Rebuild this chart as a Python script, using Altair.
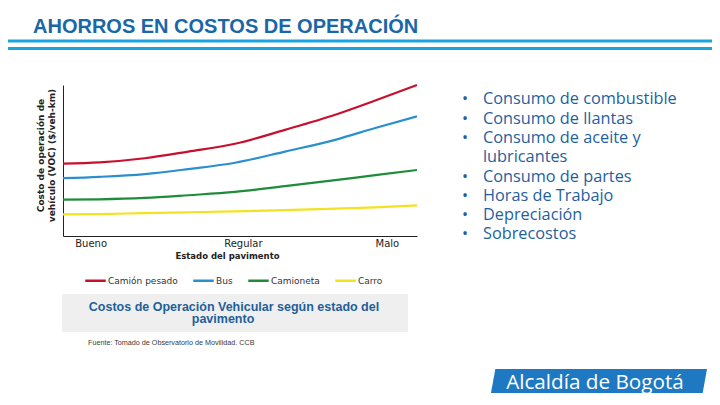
import altair as alt
import pandas as pd

# ---------------- data ----------------
x_pos = [0, 10.4, 23.1, 35.4, 48.6, 62.7, 76.9, 88.2, 100]
camion_pesado = [47.9, 48.8, 51.5, 55.9, 61.1, 70.3, 80.3, 89.7, 100]
bus = [38.3, 39.2, 41.0, 44.3, 48.5, 55.9, 63.7, 71.5, 79.2]
camioneta = [24.1, 24.3, 25.2, 27.0, 29.2, 33.0, 37.0, 40.3, 43.7]
carro = [14.3, 14.5, 15.2, 15.7, 16.3, 17.1, 18.1, 19.0, 20.3]

series_names = ["Camión pesado", "Bus", "Camioneta", "Carro"]
series_colors = ["#c8102e", "#2b8fcf", "#1e8c3a", "#f2e21f"]

estado_labels = ["Bueno", "Regular", "Malo"]
estado_pos = [7.8, 50.8, 91.5]

slide_title = "AHORROS EN COSTOS DE OPERACIÓN"
y_title = ["Costo de operación de", "vehículo (VOC) ($/veh-km)"]
x_title = "Estado del pavimento"
bullet_items = [
    "Consumo de combustible",
    "Consumo de llantas",
    "Consumo de aceite y\nlubricantes",
    "Consumo de partes",
    "Horas de Trabajo",
    "Depreciación",
    "Sobrecostos",
]
caption_lines = ["Costos de Operación Vehicular según estado del", "pavimento"]
source_text = "Fuente: Tomado de Observatorio de Movilidad. CCB"
logo_text = "Alcaldía de Bogotá"

# ---------------- tables ----------------
rows = []
for name, vals in zip(series_names, [camion_pesado, bus, camioneta, carro]):
    for xv, yv in zip(x_pos, vals):
        rows.append({"x": xv, "v": yv, "serie": name})
df = pd.DataFrame(rows)
one = pd.DataFrame({"k": [0]})

mid1 = (estado_pos[0] + estado_pos[1]) / 2
mid2 = (estado_pos[1] + estado_pos[2]) / 2
label_expr = (f"datum.value < {mid1} ? '{estado_labels[0]}' : "
              f"datum.value < {mid2} ? '{estado_labels[1]}' : '{estado_labels[2]}'")

CHART_FONT = "DejaVu Sans"

lines = alt.Chart(df).mark_line(strokeWidth=2.2, interpolate="monotone").encode(
    x=alt.X("x:Q", scale=alt.Scale(domain=[0, 100], nice=False),
            axis=alt.Axis(values=estado_pos, labelExpr=label_expr, ticks=False, grid=False,
                          domainColor="#222", domainWidth=1, labelFlush=False,
                          labelFont=CHART_FONT, labelFontSize=10, labelColor="#222",
                          labelPadding=2, title=x_title, titleFont=CHART_FONT,
                          titleFontSize=8.5, titleFontWeight="bold", titleColor="#222",
                          titleX=164, titleY=15)),
    y=alt.Y("v:Q", scale=alt.Scale(domain=[0, 100], nice=False),
            axis=alt.Axis(labels=False, ticks=False, grid=False, domainColor="#222",
                          domainWidth=1, title=y_title, titleFont=CHART_FONT,
                          titleFontSize=9, titleFontWeight="bold", titleColor="#222",
                          titlePadding=7, titleLineHeight=10.5, titleY=70)),
    color=alt.Color("serie:N", sort=series_names,
                    scale=alt.Scale(domain=series_names, range=series_colors),
                    legend=alt.Legend(orient="none", legendX=21, legendY=184,
                                      direction="horizontal", title=None,
                                      symbolType="stroke", symbolSize=420,
                                      symbolStrokeWidth=2.5, labelFont=CHART_FONT,
                                      labelFontSize=9, labelColor="#333",
                                      columnPadding=10, labelOffset=1)),
)


def text_layer(text, x, y, **kw):
    return alt.Chart(one).mark_text(text=text, **kw).encode(x=alt.value(x), y=alt.value(y))


# plot origin sits at page (63, 85); positions below are relative to it
title = text_layer(slide_title, -30, -52, align="left", baseline="alphabetic",
                   font="Liberation Sans", fontWeight="bold", fontSize=20, color="#1a67a8")

rule1 = alt.Chart(one).mark_rule(color="#1aa3de", strokeWidth=3).encode(
    x=alt.value(-60), x2=alt.value(660), y=alt.value(-44))
rule2 = alt.Chart(one).mark_rule(color="#1aa3de", strokeWidth=3).encode(
    x=alt.value(-60), x2=alt.value(660), y=alt.value(-36.5))

BULLET_STEP = 19.3
bullet_layers = []
line_no = 0
for item in bullet_items:
    for i, part in enumerate(item.split("\n")):
        yy = 19.3 + line_no * BULLET_STEP
        if i == 0:
            bullet_layers.append(text_layer("•", 399, yy, align="left", baseline="alphabetic",
                                            font="Open Sans", fontSize=16, color="#1f5f9e"))
        bullet_layers.append(text_layer(part, 420, yy, align="left", baseline="alphabetic",
                                        font="Open Sans", fontSize=16.3, color="#1f5f9e"))
        line_no += 1

caption_box = alt.Chart(one).mark_rect(color="#efefef").encode(
    x=alt.value(-1), x2=alt.value(345), y=alt.value(209), y2=alt.value(247))
cap1 = text_layer(caption_lines[0], 171, 221.7, align="center", baseline="middle",
                  font="Liberation Sans", fontWeight="bold", fontSize=12.5, color="#1f5f99")
cap2 = text_layer(caption_lines[1], 160, 234.3, align="center", baseline="middle",
                  font="Liberation Sans", fontWeight="bold", fontSize=12.5, color="#1f5f99")
source = text_layer(source_text, 25, 258.3, align="left", baseline="middle",
                    font="Liberation Sans", fontSize=7.2, color="#3a3a3a")

logo_shape = "M -0.96 -0.111 L 1 -0.111 L 0.96 0.111 L -1 0.111 Z"
logo_box = alt.Chart(one).mark_point(shape=logo_shape, filled=True, opacity=1,
                                     color="#1e79c2", strokeWidth=0).encode(
    x=alt.value(536), y=alt.value(296), size=alt.value(216 * 216))
logo_txt = text_layer(logo_text, 532, 297.5, align="center", baseline="middle",
                      font="Open Sans", fontSize=20.7, color="white")

chart = alt.layer(
    rule1, rule2, title, caption_box, cap1, cap2, source,
    lines, *bullet_layers, logo_box, logo_txt,
).properties(
    width=354, height=151, autosize="none",
    padding={"left": 55, "top": 77, "right": 295, "bottom": 161},
    background="white",
).configure_view(stroke=None)

chart.save("out.html", embed_options={"renderer": "svg", "actions": False})
